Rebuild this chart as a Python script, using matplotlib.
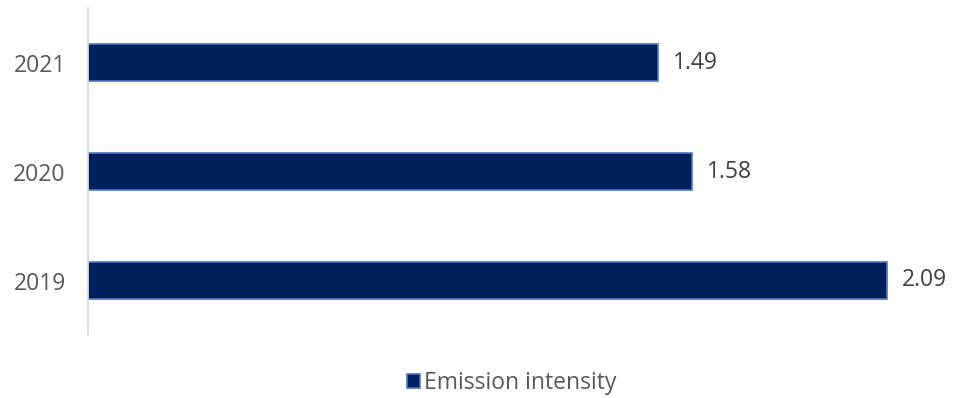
import matplotlib
matplotlib.use("Agg")
import matplotlib.pyplot as plt
from matplotlib.patches import Patch

years = ["2019", "2020", "2021"]
values = [2.09, 1.58, 1.49]
value_labels = ["2.09", "1.58", "1.49"]
series_name = "Emission intensity"

plt.rcParams['font.family'] = ['Open Sans', 'DejaVu Sans']

W, H = 955, 398
fig = plt.figure(figsize=(W/100, H/100), dpi=100)
ax = fig.add_axes([88/W, 63/H, 841/W, 327/H])

bar_color = "#001F5B"
edge_color = "#4A78C8"
text_color = "#595959"

y = range(len(years))
bars = ax.barh(list(y), values, height=0.345, color=bar_color, edgecolor=edge_color, linewidth=1.2)
for yi, v, lab in zip(y, values, value_labels):
    ax.annotate(lab, (v, yi), xytext=(11, 0), textcoords="offset points",
                va="center", ha="left", fontsize=16.5, color="#404040")

ax.set_xlim(0, 2.2)
ax.set_ylim(-0.5, 2.5)
ax.set_yticks(list(y))
ax.set_yticklabels(years, fontsize=16.5, color=text_color)
ax.tick_params(axis="y", length=0, pad=16)
ax.set_xticks([])
for s in ["top", "right", "bottom"]:
    ax.spines[s].set_visible(False)
ax.spines["left"].set_color("#D9D9D9")
ax.spines["left"].set_linewidth(1.2)

handle = Patch(facecolor=bar_color, edgecolor=edge_color, linewidth=1.2)
fig.legend([handle], [series_name], loc="center", bbox_to_anchor=(512/W, 1 - 383/H),
           frameon=False, fontsize=16.5, handlelength=0.55, handleheight=0.55,
           handletextpad=0.2, labelcolor=text_color)

fig.savefig("out.png", dpi=100)
